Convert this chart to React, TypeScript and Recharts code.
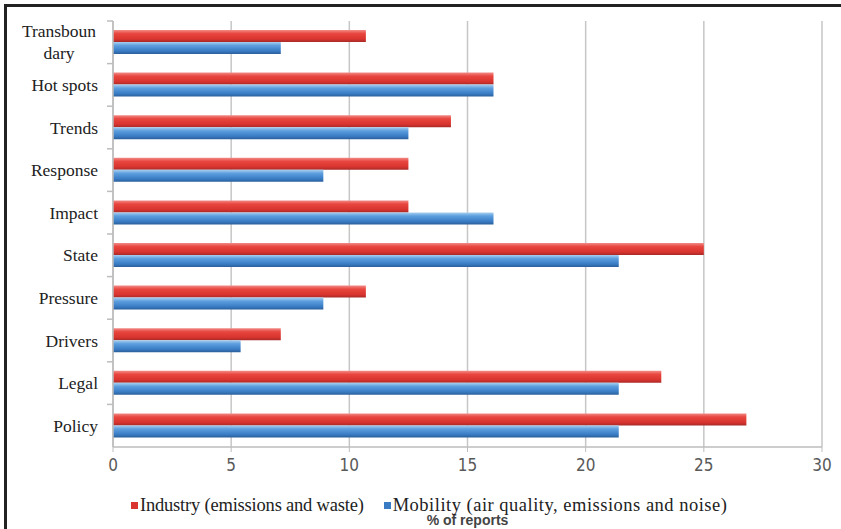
import React from 'react'
import { Bar, BarChart, CartesianGrid, XAxis, YAxis } from 'recharts'

const categories = ['Transboundary', 'Hot spots', 'Trends', 'Response', 'Impact', 'State', 'Pressure', 'Drivers', 'Legal', 'Policy']
const categoryLabels = [['Transboun', 'dary'], ['Hot spots'], ['Trends'], ['Response'], ['Impact'], ['State'], ['Pressure'], ['Drivers'], ['Legal'], ['Policy']]
const industry = [10.7, 16.1, 14.3, 12.5, 12.5, 25.0, 10.7, 7.1, 23.2, 26.8]
const mobility = [7.1, 16.1, 12.5, 8.9, 16.1, 21.4, 8.9, 5.4, 21.4, 21.4]
const xTicks = [0, 5, 10, 15, 20, 25, 30]
const seriesNames = ['Industry (emissions and waste)', 'Mobility (air quality, emissions and noise)']
const axisTitle = '% of reports'

const data = categories.map((name, i) => ({
    name,
    industry: industry[i],
    mobility: mobility[i],
}))

const serif = "'Liberation Serif', 'Times New Roman', serif"

const CategoryTick = (props: any) => {
    const { x, y, payload } = props
    const idx = categories.indexOf(payload.value)
    const lines = categoryLabels[idx] || [payload.value]
    const multi = lines.length > 1
    return (
        <g>
            <line x1={x + 9} x2={x + 15} y1={y - 21.3} y2={y - 21.3} stroke="#bdbdbd" strokeWidth={1.5} />
            {lines.map((t, i) => (
                <text key={i} x={multi ? x - 39 : x} y={y + (i - (lines.length - 1) / 2) * 22 + 6}
                    textAnchor={multi ? 'middle' : 'end'} fontFamily={serif} fontSize={17.5} fill="#222">
                    {t}
                </text>
            ))}
        </g>
    )
}

const App = () => {
    return (
        <div style={{ position: 'absolute', left: 0, top: 0, width: 841, height: 529, background: '#fff' }}>
            <div style={{ position: 'absolute', left: 4, top: 4, width: 837, height: 525, borderTop: '3px solid #222', borderLeft: '3px solid #222', boxSizing: 'border-box' }} />
            <div style={{ position: 'absolute', left: 0, top: 0 }}>
                <BarChart width={841} height={529} data={data} layout="vertical"
                    margin={{ top: 21, right: 19, left: 0, bottom: 0 }} barSize={12} barGap={0}>
                    <defs>
                        <linearGradient id="redGrad" x1="0" y1="0" x2="0" y2="1">
                            <stop offset="0%" stopColor="#f28a86" />
                            <stop offset="30%" stopColor="#e8463f" />
                            <stop offset="75%" stopColor="#d9342f" />
                            <stop offset="100%" stopColor="#a82a27" />
                        </linearGradient>
                        <linearGradient id="blueGrad" x1="0" y1="0" x2="0" y2="1">
                            <stop offset="0%" stopColor="#a9d0f0" />
                            <stop offset="30%" stopColor="#5c9ede" />
                            <stop offset="75%" stopColor="#3a7cc4" />
                            <stop offset="100%" stopColor="#2a5f9a" />
                        </linearGradient>
                    </defs>
                    <CartesianGrid horizontal={false} stroke="#c6c6c6" strokeWidth={1.5} />
                    <XAxis type="number" domain={[0, 30]} ticks={xTicks} height={82}
                        axisLine={{ stroke: '#bdbdbd', strokeWidth: 1.5 }} tickLine={{ stroke: '#bdbdbd' }} tickSize={5} tickMargin={7}
                        tick={{ fill: '#595959', fontSize: 17, fontFamily: "'Liberation Sans Narrow', 'DejaVu Sans Condensed', sans-serif" }}
                        label={{ value: axisTitle, position: 'insideBottom', offset: 4, fill: '#444', fontSize: 14, fontWeight: 'bold', fontFamily: "'Liberation Sans', sans-serif" }} />
                    <YAxis type="category" dataKey="name" width={113} interval={0}
                        axisLine={{ stroke: '#bdbdbd', strokeWidth: 1.5 }} tickLine={false} tickSize={6} tickMargin={9}
                        tick={<CategoryTick />} />
                    <Bar dataKey="industry" name={seriesNames[0]} fill="url(#redGrad)" isAnimationActive={false} />
                    <Bar dataKey="mobility" name={seriesNames[1]} fill="url(#blueGrad)" isAnimationActive={false} />
                </BarChart>
            </div>
            <div style={{ position: 'absolute', left: 131, top: 495, display: 'flex', alignItems: 'center', fontFamily: serif, fontSize: 18.5, color: '#222' }}>
                <span style={{ display: 'inline-block', width: 7, height: 7, background: '#d9342f', marginRight: 2 }} />
                <span style={{ letterSpacing: -0.2 }}>{seriesNames[0]}</span>
                <span style={{ display: 'inline-block', width: 7, height: 7, background: '#3a7cc4', marginLeft: 20, marginRight: 2 }} />
                <span style={{ letterSpacing: 0.5 }}>{seriesNames[1]}</span>
            </div>
        </div>
    )
}

export default App
